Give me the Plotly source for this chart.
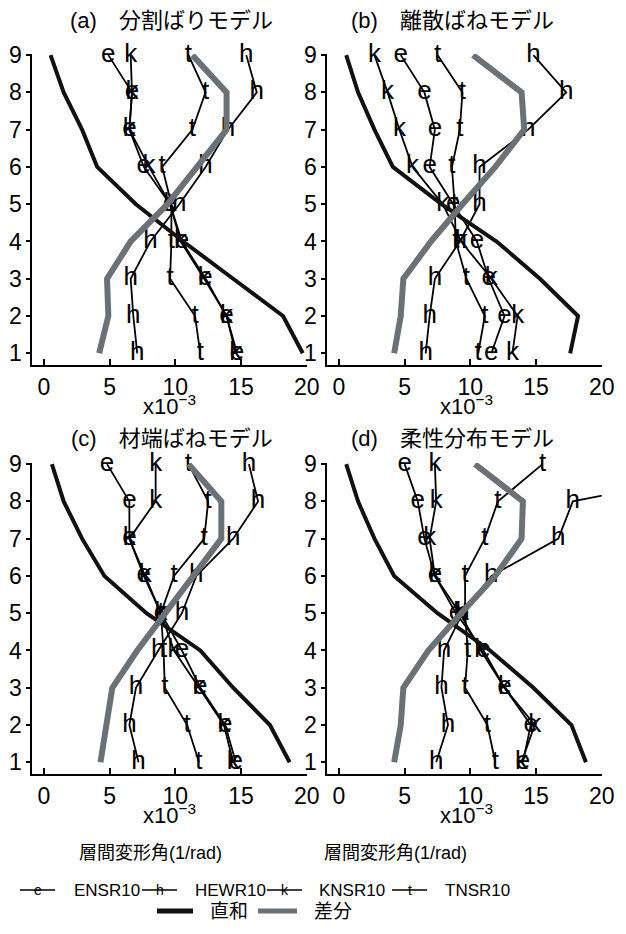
import plotly.graph_objects as go

# ---------------- data (values in x10^-3 rad), floors 1..9 ----------------
floors = [1, 2, 3, 4, 5, 6, 7, 8, 9]
x_ticks = [0, 5, 10, 15, 20]
panel_titles = ["(a)　分割ばりモデル", "(b)　離散ばねモデル", "(c)　材端ばねモデル", "(d)　柔性分布モデル"]
series_names = ["ENSR10", "HEWR10", "KNSR10", "TNSR10"]
series_letters = ["e", "h", "k", "t"]

# panel (a)
a_sum = [19.7, 18.2, 14.4, 10.6, 7.0, 4.05, 2.9, 1.5, 0.5]
a_diff = [4.2, 4.9, 4.8, 6.6, 9.4, 11.6, 13.9, 13.9, 11.3]
a_e = [14.7, 13.9, 12.3, 10.5, 9.6, 7.6, 6.5, 6.7, 4.9]
a_h = [7.1, 6.8, 6.6, 8.1, 10.3, 12.3, 14.0, 16.2, 15.4]
a_k = [14.6, 13.9, 12.2, 10.4, 9.6, 8.0, 6.5, 6.7, 6.6]
a_t = [11.9, 11.5, 9.6, 9.7, 9.7, 9.0, 11.3, 12.3, 11.0]

# panel (b)
b_sum = [17.6, 18.2, 15.3, 12.0, 7.8, 4.1, 2.7, 1.45, 0.55]
b_diff = [4.2, 4.7, 4.9, 7.0, 9.4, 11.9, 14.1, 13.9, 10.2]
b_e = [11.6, 12.6, 11.4, 10.5, 8.7, 6.9, 7.3, 6.5, 4.7]
b_h = [6.6, 6.9, 7.3, 9.2, 10.7, 10.7, 14.4, 17.3, 14.8]
b_k = [13.2, 13.6, 11.6, 9.3, 7.9, 5.6, 4.6, 3.7, 2.7]
b_t = [10.6, 11.1, 9.7, 8.9, 8.8, 8.6, 9.2, 9.4, 7.5]

# panel (c)
c_sum = [18.7, 17.2, 14.4, 11.9, 7.8, 4.6, 2.9, 1.5, 0.6]
c_diff = [4.3, 4.8, 5.2, 7.1, 9.2, 11.3, 13.5, 13.5, 11.0]
c_e = [14.6, 13.8, 11.9, 10.5, 8.9, 7.6, 6.5, 6.5, 4.8]
c_h = [7.2, 6.5, 7.0, 8.7, 10.5, 11.6, 14.4, 16.3, 15.6]
c_k = [14.4, 13.7, 11.8, 9.9, 8.9, 7.7, 6.5, 8.5, 8.5]
c_t = [11.8, 10.9, 9.2, 9.1, 8.9, 9.9, 12.2, 12.5, 11.0]

# panel (d)
d_sum = [18.8, 17.7, 14.8, 11.5, 7.5, 4.2, 2.7, 1.45, 0.55]
d_diff = [4.2, 4.7, 4.9, 6.8, 9.3, 11.9, 13.9, 14.0, 10.35]
d_e = [14.0, 14.6, 12.6, 11.0, 8.9, 7.3, 6.5, 6.0, 5.0]
d_h = [7.4, 8.3, 7.8, 8.0, 9.4, 11.6, 16.7, 17.8, 32.0]
d_k = [13.9, 14.9, 12.6, 10.8, 9.2, 7.3, 6.9, 7.4, 7.3]
d_t = [11.9, 11.3, 9.6, 9.8, 9.6, 9.6, 11.1, 12.1, 15.5]

panels = [
    (a_e, a_h, a_k, a_t, a_sum, a_diff),
    (b_e, b_h, b_k, b_t, b_sum, b_diff),
    (c_e, c_h, c_k, c_t, c_sum, c_diff),
    (d_e, d_h, d_k, d_t, d_sum, d_diff),
]

# ---------------- styling ----------------
W, H = 626, 934
X_MAX = 20
TICKF = "Liberation Sans, Arial, sans-serif"
CJK = "Liberation Sans, Noto Sans CJK JP, sans-serif"
LETTER = "Liberation Sans, Arial, sans-serif"
GRAY = "#6b7277"


def px(x):
    return x / W


def py(y):
    return 1 - y / H


# axis pixel boxes: (left, right, top, bottom)
boxes = [(32.3, 306.7, 54, 365), (327.3, 601.7, 54, 365),
         (32.3, 306.7, 463, 774), (327.3, 601.7, 463, 774)]

fig = go.Figure()

for i, (e, h, k, t, s, d) in enumerate(panels):
    xa = "x" if i == 0 else f"x{i+1}"
    ya = "y" if i == 0 else f"y{i+1}"
    for vals, letter in zip([e, h, k, t], series_letters):
        fig.add_trace(go.Scatter(
            x=vals, y=floors, mode="lines+text",
            text=[letter if v <= X_MAX else "" for v in vals],
            textposition="middle center", cliponaxis=False,
            textfont=dict(family=LETTER, size=26, color="black"),
            line=dict(color="black", width=1.8),
            xaxis=xa, yaxis=ya, showlegend=False))
    fig.add_trace(go.Scatter(x=s, y=floors, mode="lines",
                             line=dict(color="#111111", width=4),
                             xaxis=xa, yaxis=ya, showlegend=False))
    fig.add_trace(go.Scatter(x=d, y=floors, mode="lines",
                             line=dict(color=GRAY, width=6),
                             xaxis=xa, yaxis=ya, showlegend=False))

layout = dict(width=W, height=H, margin=dict(l=0, r=0, t=0, b=0, autoexpand=False),
              paper_bgcolor="white", plot_bgcolor="white", showlegend=False)

for i, (l, r, t, b) in enumerate(boxes):
    xk = "xaxis" if i == 0 else f"xaxis{i+1}"
    yk = "yaxis" if i == 0 else f"yaxis{i+1}"
    ya = "y" if i == 0 else f"y{i+1}"
    xa = "x" if i == 0 else f"x{i+1}"
    layout[xk] = dict(domain=[px(l), px(r)], range=[-0.89, X_MAX], anchor=ya,
                      tickvals=x_ticks, ticks="inside", ticklen=6, tickwidth=2,
                      tickcolor="black", showline=True, linecolor="black", linewidth=2,
                      showgrid=False, zeroline=False, automargin=False,
                      tickfont=dict(family=TICKF, size=23, color="black"))
    layout[yk] = dict(domain=[py(b), py(t)], range=[0.686, 9.03], anchor=xa,
                      tickvals=floors, ticks="outside", ticklen=4, tickwidth=2,
                      tickcolor="black", showline=True, linecolor="black", linewidth=2,
                      showgrid=False, zeroline=False, automargin=False,
                      tickfont=dict(family=TICKF, size=23, color="black"))

fig.update_layout(**layout)

annotations = []
title_pos = [(171, 21), (452, 21), (172, 438), (452, 438)]
for (tx, ty), title in zip(title_pos, panel_titles):
    annotations.append(dict(x=px(tx), y=py(ty), xref="paper", yref="paper",
                            text=title, showarrow=False, xanchor="center", yanchor="middle",
                            font=dict(family=CJK, size=22, color="black")))
for (ex, ey) in [(169, 405), (466, 405), (169, 814), (466, 814)]:
    annotations.append(dict(x=px(ex), y=py(ey), xref="paper", yref="paper",
                            text="x10<sup>−3</sup>", showarrow=False,
                            xanchor="center", yanchor="middle",
                            font=dict(family=TICKF, size=22, color="black")))
for ax_x in [150, 395]:
    annotations.append(dict(x=px(ax_x), y=py(853), xref="paper", yref="paper",
                            text="層間変形角(1/rad)", showarrow=False,
                            xanchor="center", yanchor="middle",
                            font=dict(family=CJK, size=18, color="black")))

# legend (drawn manually)
shapes = []
leg1_y = 890
leg1 = [(20, 55, 72), (142, 177, 193), (267, 302, 317), (392, 427, 443)]
for (x0, x1, tx), name, letter in zip(leg1, series_names, series_letters):
    shapes.append(dict(type="line", xref="paper", yref="paper",
                       x0=px(x0), x1=px(x1), y0=py(leg1_y), y1=py(leg1_y),
                       line=dict(color="black", width=1.5)))
    annotations.append(dict(x=px((x0 + x1) / 2), y=py(leg1_y), xref="paper", yref="paper",
                            text=letter, showarrow=False, xanchor="center", yanchor="middle",
                            font=dict(family=LETTER, size=14, color="black")))
    annotations.append(dict(x=px(tx), y=py(leg1_y), xref="paper", yref="paper",
                            text=name, showarrow=False, xanchor="left", yanchor="middle",
                            font=dict(family=TICKF, size=17, color="black")))
leg2_y = 911
for (x0, x1, tx), name, col in zip([(157, 193, 208), (258, 297, 312)], ["直和", "差分"],
                                   ["#111111", GRAY]):
    shapes.append(dict(type="line", xref="paper", yref="paper",
                       x0=px(x0), x1=px(x1), y0=py(leg2_y), y1=py(leg2_y),
                       line=dict(color=col, width=5)))
    annotations.append(dict(x=px(tx), y=py(leg2_y), xref="paper", yref="paper",
                            text=name, showarrow=False, xanchor="left", yanchor="middle",
                            font=dict(family=CJK, size=19, color="black")))

fig.update_layout(annotations=annotations, shapes=shapes)
fig.write_html("out.html", config={"displayModeBar": False},
               post_script="document.body.style.margin='0';document.body.style.overflow='hidden';")
